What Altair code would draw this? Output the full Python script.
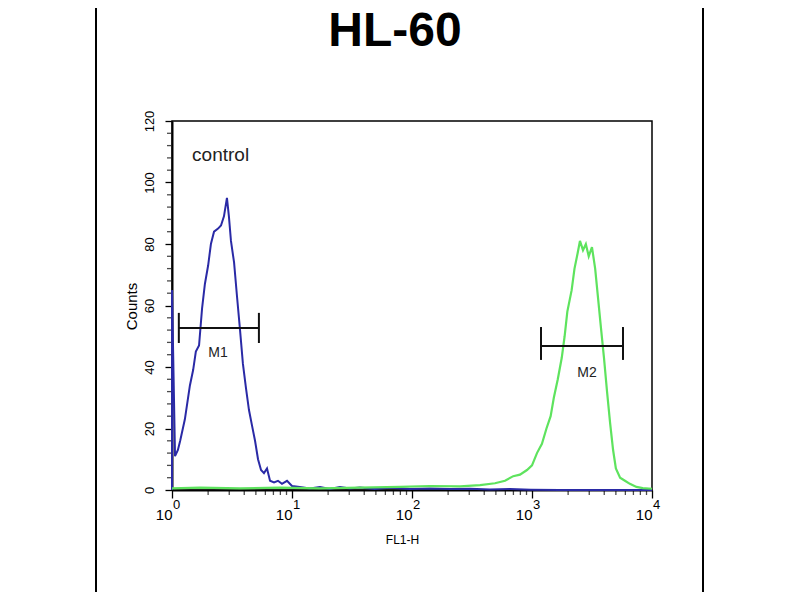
import altair as alt
import pandas as pd

# ---- data ----
blue_fl = [1.0, 1.0, 1.06, 1.12, 1.17, 1.28, 1.41, 1.50, 1.58, 1.68, 1.78, 1.88, 2.0, 2.11, 2.24,
           2.42, 2.56, 2.71, 2.87, 2.98, 3.1, 3.29, 3.48, 3.69, 3.90, 4.14, 4.38, 4.64, 4.92, 5.21,
           5.52, 5.84, 6.19, 6.56, 7.08, 7.64, 8.25, 9.09, 10, 11.6, 14.1, 17.1, 20.7, 25.1, 30.4,
           36.8, 49, 65, 96, 141, 207, 304, 446, 655, 976, 1700, 3650, 9500, 10000]
blue_counts = [0, 65, 11, 13, 16, 23, 34, 39, 45, 47, 59, 67, 73, 80, 84,
               85, 86, 89, 95, 89, 81, 74, 63, 52, 41, 33, 26, 21, 16, 10,
               6.5, 5.5, 7, 3, 2.5, 3, 2, 3, 1.3, 1, 0.5, 1, 0.3, 1, 0.5,
               0.8, 0.3, 0.7, 0.3, 0.5, 0.3, 0.4, 0.2, 0.3, 0.1, 0, 0, 0, 0]

green_fl = [1, 1.71, 3.69, 7.9, 17.1, 36.8, 79.4, 141, 251, 369, 491, 596, 698, 794, 908,
            1000, 1100, 1210, 1320, 1430, 1520, 1640, 1770, 1870, 1970, 2140, 2260, 2400, 2510, 2660,
            2810, 2970, 3160, 3360, 3540, 3750, 3980, 4220, 4470, 4740, 5000, 5420, 5950, 6540, 7420,
            8370, 10000]
green_counts = [0.5, 0.8, 0.5, 0.8, 0.5, 0.8, 1, 1.3, 1.2, 1.6, 2.2, 3, 4.5, 5, 6.5,
                8, 12, 15, 20, 24, 30, 36, 43, 50, 58, 65, 72, 77, 81, 78,
                80, 76, 79, 72, 63, 53, 43, 32, 22, 13, 7, 4, 3, 2, 1,
                0.6, 0.4]

marker_names = ["M1", "M2"]
marker_start = [1.14, 1189]
marker_end = [5.3, 5730]
marker_level = [52.7, 46.8]
marker_cap_lo = [47.8, 42.3]
marker_cap_hi = [57.6, 53.0]
marker_label_x = [2.42, 2870]
marker_label_y = [44.6, 38.0]

decades = [1, 10, 100, 1000, 10000]
exponents = ["0", "1", "2", "3", "4"]
y_major = [0, 20, 40, 60, 80, 100, 120]
x_minor = [m * 10 ** k for k in range(4) for m in range(2, 10)]
y_minor = [v for v in range(0, 121, 4) if v % 20 != 0]

FONT = "Liberation Sans"
W, H = 480, 369

blue_df = pd.DataFrame({"fl": blue_fl, "count": blue_counts, "i": range(len(blue_fl))})
green_df = pd.DataFrame({"fl": green_fl, "count": green_counts, "i": range(len(green_fl))})
marker_df = pd.DataFrame({"name": marker_names, "start": marker_start, "end": marker_end,
                          "level": marker_level, "lo": marker_cap_lo, "hi": marker_cap_hi,
                          "lx": marker_label_x, "ly": marker_label_y})
exp_df = pd.DataFrame({"fl": decades, "e": exponents})
xminor_df = pd.DataFrame({"fl": x_minor})
yminor_df = pd.DataFrame({"c": y_minor})
one = pd.DataFrame({"a": [0]})

x_scale = alt.Scale(type="log", domain=[1, 10000], nice=False)
y_scale = alt.Scale(domain=[0, 120], nice=False)

x_axis = alt.Axis(
    values=decades,
    labelExpr="'10'",
    labelAlign="right", labelOffset=0, labelFontSize=15, labelFont=FONT, labelColor="black",
    labelPadding=9, labelOverlap=False, labelFlush=False,
    tickSize=8, tickColor="black", tickWidth=1.3,
    domainColor="black", domainWidth=2, grid=False,
    title="FL1-H", titleFont=FONT, titleFontSize=12, titleFontWeight="normal", titleColor="black",
    titleX=230, titleY=53, titleAlign="center", titleBaseline="alphabetic",
)
y_axis = alt.Axis(
    values=y_major,
    labelAngle=270, labelAlign="center", labelBaseline="bottom",
    labelFontSize=13, labelFont=FONT, labelColor="black", labelPadding=9,
    labelOverlap=False, labelFlush=False,
    tickSize=7, tickColor="black", tickWidth=1.3,
    domainColor="black", domainWidth=2, grid=False,
    title="Counts", titleFont=FONT, titleFontSize=15, titleFontWeight="normal", titleColor="black",
    titleAngle=270, titleX=-41, titleY=185, titleAlign="center", titleBaseline="middle",
)

blue = alt.Chart(blue_df).mark_line(color="#2a2aa6", strokeWidth=2, interpolate="linear").encode(
    x=alt.X("fl:Q", scale=x_scale, axis=x_axis),
    y=alt.Y("count:Q", scale=y_scale, axis=y_axis),
    order="i:Q",
)
green = alt.Chart(green_df).mark_line(color="#5ee35e", strokeWidth=2.2).encode(
    x=alt.X("fl:Q", scale=x_scale),
    y=alt.Y("count:Q", scale=y_scale),
    order="i:Q",
)

x_minor_ticks = alt.Chart(xminor_df).mark_tick(color="black", thickness=1.3, size=4, orient="vertical").encode(
    x=alt.X("fl:Q", scale=x_scale),
    y=alt.value(H + 3),
)
y_minor_ticks = alt.Chart(yminor_df).mark_tick(color="black", thickness=1.3, size=4, orient="horizontal").encode(
    y=alt.Y("c:Q", scale=y_scale),
    x=alt.value(-3),
)

m_bar = alt.Chart(marker_df).mark_rule(color="#111111", strokeWidth=2).encode(
    x=alt.X("start:Q", scale=x_scale), x2="end:Q",
    y=alt.Y("level:Q", scale=y_scale),
)
m_cap1 = alt.Chart(marker_df).mark_rule(color="#111111", strokeWidth=2).encode(
    x=alt.X("start:Q", scale=x_scale),
    y=alt.Y("lo:Q", scale=y_scale), y2="hi:Q",
)
m_cap2 = alt.Chart(marker_df).mark_rule(color="#111111", strokeWidth=2).encode(
    x=alt.X("end:Q", scale=x_scale),
    y=alt.Y("lo:Q", scale=y_scale), y2="hi:Q",
)
m_text = alt.Chart(marker_df).mark_text(font=FONT, fontSize=14, color="#222222",
                                         align="center", baseline="middle").encode(
    x=alt.X("lx:Q", scale=x_scale),
    y=alt.Y("ly:Q", scale=y_scale),
    text="name:N",
)

control = alt.Chart(one).mark_text(font=FONT, fontSize=19, color="#222222",
                                    align="left", baseline="middle").encode(
    x=alt.datum(1.47, scale=x_scale),
    y=alt.datum(109, scale=y_scale),
    text=alt.value("control"),
)

exp_text = alt.Chart(exp_df).mark_text(font=FONT, fontSize=13, color="black",
                                        align="left", baseline="alphabetic", dx=1).encode(
    x=alt.X("fl:Q", scale=x_scale),
    y=alt.value(388),
    text="e:N",
)

title = alt.Chart(one).mark_text(font=FONT, fontSize=48, fontWeight="bold", color="black",
                                  align="center", baseline="alphabetic").encode(
    x=alt.value(223), y=alt.value(-75), text=alt.value("HL-60"),
)

border_l = alt.Chart(one).mark_rule(color="black", strokeWidth=2).encode(
    x=alt.value(-76), y=alt.value(-113), y2=alt.value(471),
)
border_r = alt.Chart(one).mark_rule(color="black", strokeWidth=2).encode(
    x=alt.value(531), y=alt.value(-113), y2=alt.value(471),
)

chart = alt.layer(
    x_minor_ticks, y_minor_ticks, blue, green, m_bar, m_cap1, m_cap2, m_text, control,
    exp_text, title, border_l, border_r
).properties(
    width=W, height=H,
    autosize=alt.AutoSizeParams(type="none"),
    padding={"left": 164, "top": 113, "right": 140, "bottom": 102},
    background="white",
).configure(font=FONT).configure_view(
    stroke="black", strokeWidth=1.5,
)

chart.save("out.html", embed_options={"renderer": "svg", "actions": False})
